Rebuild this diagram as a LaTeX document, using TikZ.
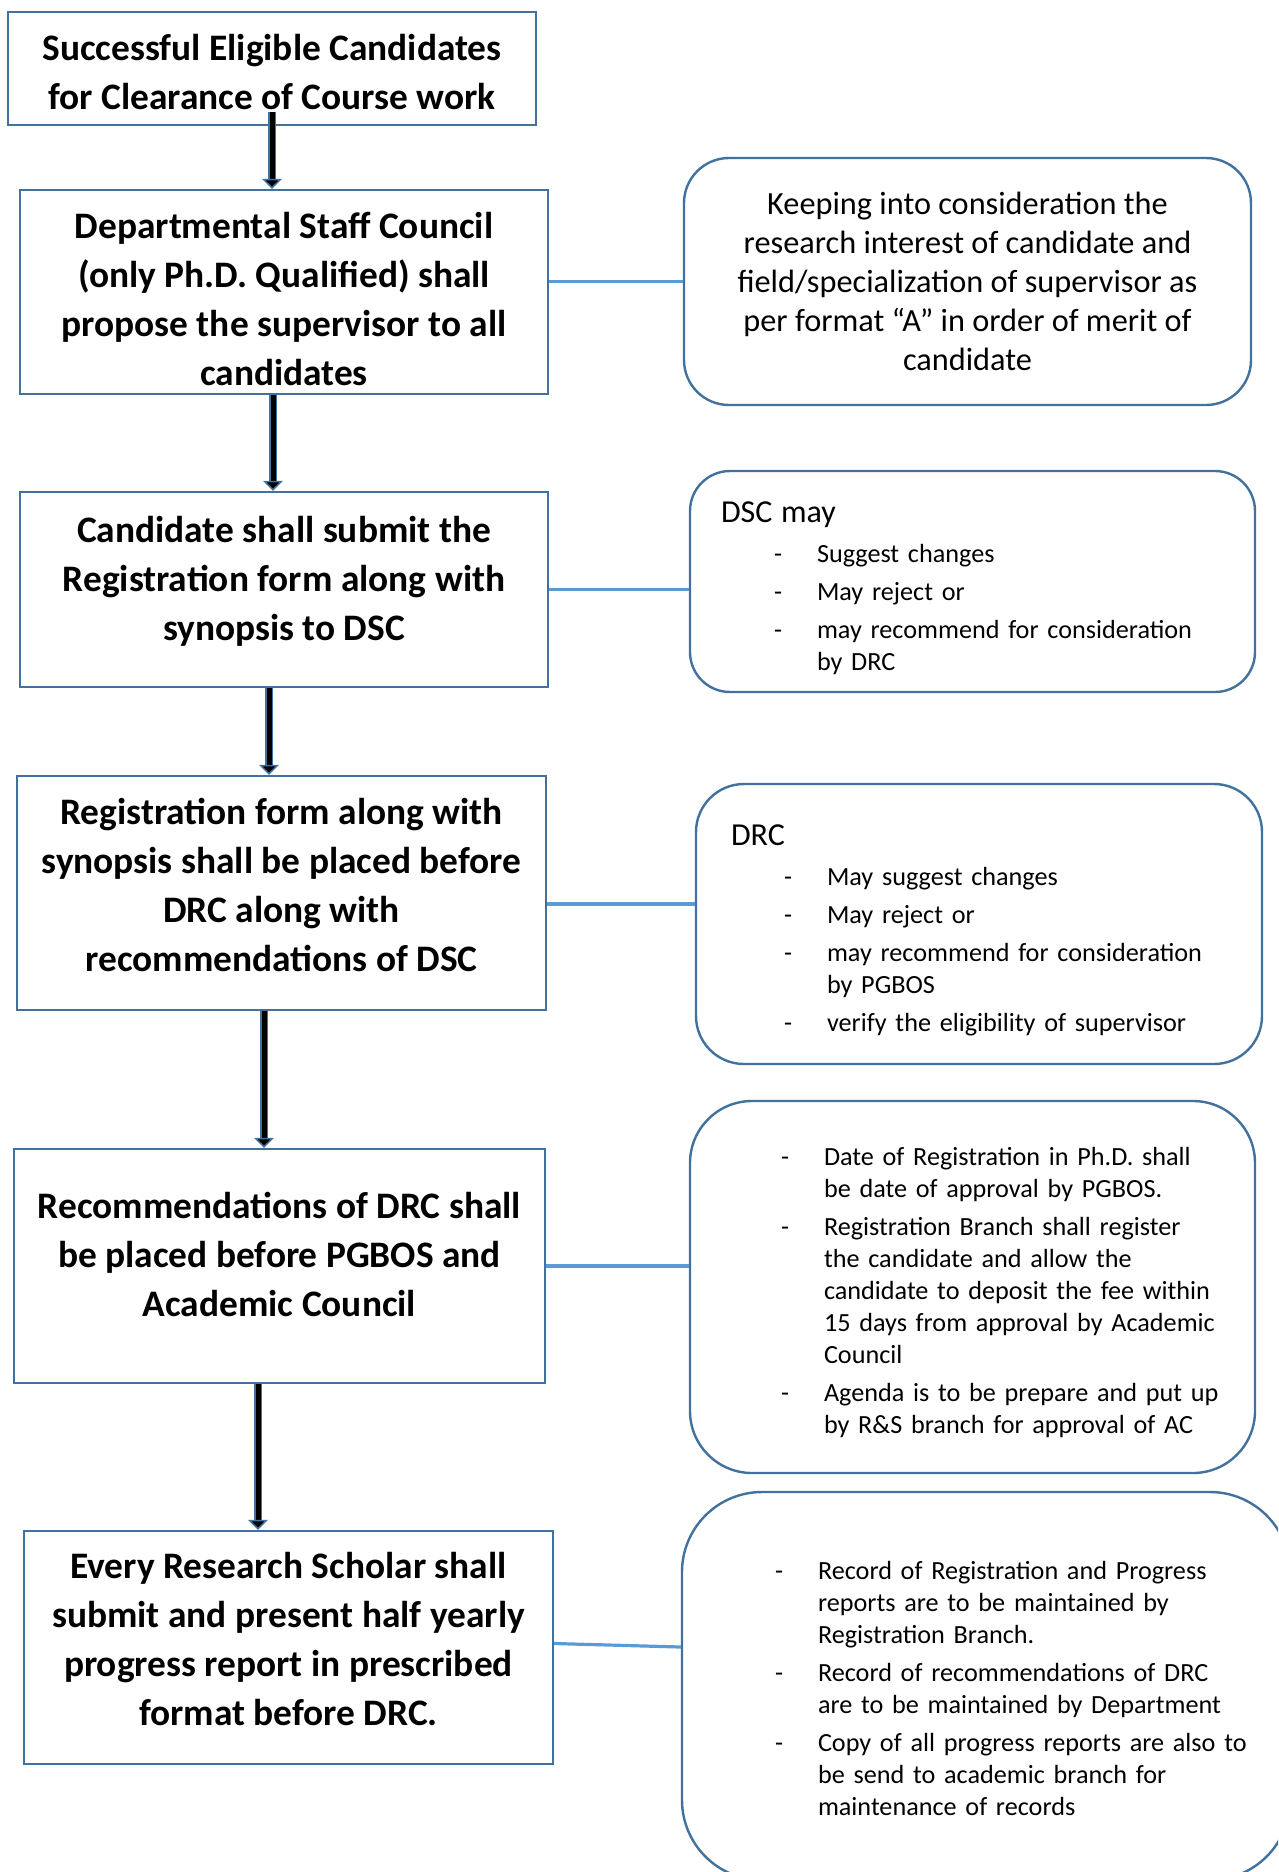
\documentclass[tikz,border=0pt]{standalone}
\usepackage{fontspec}
\setmainfont{Carlito}
\usetikzlibrary{arrows.meta,calc}

\definecolor{boxblue}{RGB}{65,113,156}
\definecolor{lineblue}{RGB}{91,155,213}

\newlength{\boxind}
\newlength{\dashind}\setlength{\dashind}{53pt}
\newlength{\itemind}\setlength{\itemind}{96pt}
\newlength{\dashgap}\setlength{\dashgap}{43pt}
\newcommand{\listsetup}[1]{\setlength{\parskip}{6pt}\setlength{\boxind}{#1}}
\newcommand{\dashitem}[1]{\par\hangindent=\dimexpr\boxind+\itemind\relax\hangafter=1%
  \noindent\hspace*{\dimexpr\boxind+\dashind\relax}\makebox[\dashgap][l]{-}#1\par}
\newcommand{\notehead}[1]{{\fontsize{32}{39}\selectfont\noindent\hspace*{\boxind}#1\par}\vspace{2pt}}

\tikzset{
  stepbox/.style={rectangle,draw=boxblue,line width=2.4pt,inner sep=0pt},
  steptext/.style={align=center,inner sep=0pt,font=\fontsize{37.4}{49}\selectfont\bfseries},
  notebox/.style={rectangle,draw=boxblue,line width=2.4pt,rounded corners=#1,inner sep=0pt},
  notetext/.style={align=left,inner sep=0pt,font=\fontsize{26.2}{32}\selectfont},
  flowarrow/.style={draw=black,line width=5pt,
    -{Triangle[width=20pt,length=10pt,color=boxblue,fill=black,line width=1.5pt]},
    preaction={draw=boxblue,line width=8pt,-,shorten >=9pt}},
  link/.style={draw=lineblue,line width=3.2pt}
}

\begin{document}
\begin{tikzpicture}[x=1pt,y=-1pt]

\useasboundingbox (0,0) rectangle (1278,1872);
\clip (0,0) rectangle (1278,1872);

% left column
\node (b1) at (272,68.5) [stepbox,minimum width=528pt,minimum height=113pt,
  label={[steptext,yshift=-4pt]center:{Successful Eligible Candidates\\for Clearance of Course work}}] {};
\node (b2) at (284,292) [stepbox,minimum width=528pt,minimum height=204pt,
  label={[steptext,yshift=-7pt]center:{Departmental Staff Council\\(only Ph.D. Qualified) shall\\propose the supervisor to all\\candidates}}] {};
\node (b3) at (284,589.5) [stepbox,minimum width=528pt,minimum height=195pt,
  label={[steptext,yshift=8pt]center:{Candidate shall submit the\\Registration form along with\\synopsis to DSC}}] {};
\node (b4) at (281.5,893) [stepbox,minimum width=529pt,minimum height=234pt,
  label={[steptext,yshift=8pt]center:{Registration form along with\\synopsis shall be placed before\\DRC along with\\recommendations of DSC}}] {};
\node (b5) at (279.5,1266) [stepbox,minimum width=531pt,minimum height=234pt,
  label={[steptext,yshift=12pt]center:{Recommendations of DRC shall\\be placed before PGBOS and\\Academic Council}}] {};
\node (b6) at (288.5,1647.5) [stepbox,minimum width=529pt,minimum height=233pt,
  label={[steptext,yshift=9pt]center:{Every Research Scholar shall\\submit and present half yearly\\progress report in prescribed\\format before DRC.}}] {};

% right column
\node (r1) at (967.5,281.5) [notebox=45pt,minimum width=567pt,minimum height=247pt,
  label={[align=center,font=\fontsize{32.3}{39}\selectfont]center:{Keeping into consideration the\\research interest of candidate and\\field/specialization of supervisor as\\per format “A” in order of merit of\\candidate}}] {};
\node (r2) at (972.5,581.5) [notebox=40pt,minimum width=565pt,minimum height=221pt,
  label={[notetext,text width=565pt,yshift=-7pt]center:{\listsetup{31pt}\notehead{DSC may}
   \dashitem{Suggest changes}
   \dashitem{May reject or}
   \dashitem{may recommend for consideration\newline by DRC}}}] {};
\node (r3) at (979,924) [notebox=48pt,minimum width=566pt,minimum height=280pt,
  label={[notetext,text width=566pt,yshift=-6pt]center:{\listsetup{35pt}\notehead{DRC}
   \dashitem{May suggest changes}
   \dashitem{May reject or}
   \dashitem{may recommend for consideration\newline by PGBOS}
   \dashitem{verify the eligibility of supervisor}}}] {};
\node (r4) at (972.5,1287) [notebox=62pt,minimum width=565pt,minimum height=372pt,
  label={[notetext,text width=565pt,yshift=4pt]center:{\listsetup{38pt}
   \dashitem{Date of Registration in Ph.D. shall\newline be date of approval by PGBOS.}
   \dashitem{Registration Branch shall register\newline the candidate and allow the\newline candidate to deposit the fee within\newline 15 days from approval by Academic\newline Council}
   \dashitem{Agenda is to be prepare and put up\newline by R\&S branch for approval of AC}}}] {};
\node (r5) at (986,1686) [notebox=80pt,minimum width=608pt,minimum height=388pt,
  label={[notetext,text width=608pt,yshift=7pt]center:{\listsetup{40pt}
   \dashitem{Record of Registration and Progress\newline reports are to be maintained by\newline Registration Branch.}
   \dashitem{Record of recommendations of DRC\newline are to be maintained by Department}
   \dashitem{Copy of all progress reports are also to\newline be send to academic branch for\newline maintenance of records}}}] {};

% arrows down
\draw[flowarrow] ([yshift=14pt]b1.south) -- (b1.south |- b2.north);
\draw[flowarrow] ([xshift=-11pt]b2.south) -- ([xshift=-11pt]b2.south |- b3.north);
\draw[flowarrow] ([xshift=-15pt]b3.south) -- ([xshift=-15pt]b3.south |- b4.north);
\draw[flowarrow] ([xshift=-17.5pt]b4.south) -- ([xshift=-17.5pt]b4.south |- b5.north);
\draw[flowarrow] ([xshift=-21.5pt]b5.south) -- ([xshift=-21.5pt]b5.south |- b6.north);

% side links
\draw[link] (r1.west -| b2.east) -- (r1.west);
\draw[link] (b3.east) -- (b3.east -| r2.west);
\draw[link] ([yshift=-11pt]b4.east) -- ([yshift=-11pt]b4.east -| r3.west);
\draw[link] (b5.east) -- (b5.east -| r4.west);
\draw[link] ([yshift=4pt]b6.east) -- ([yshift=39pt]r5.west);

\end{tikzpicture}
\end{document}
